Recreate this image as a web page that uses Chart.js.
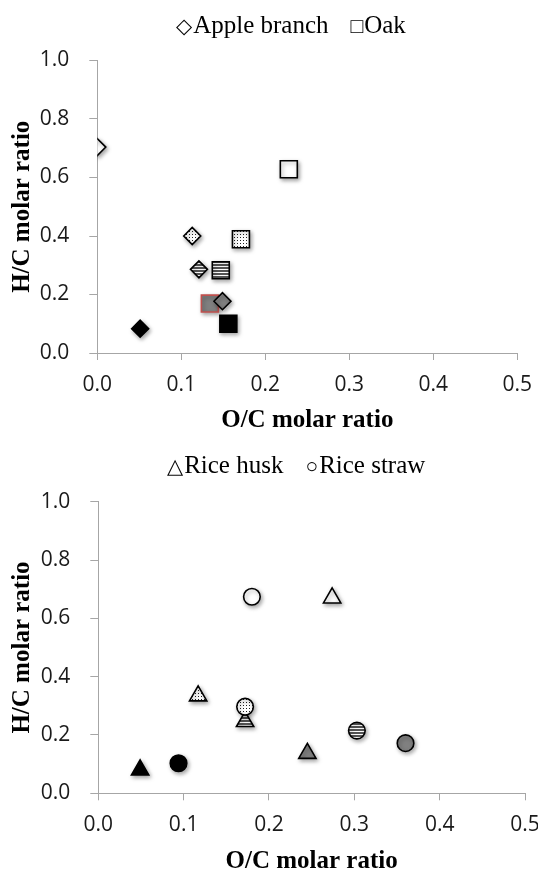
<!DOCTYPE html>
<html>
<head>
<meta charset="utf-8">
<script src="https://cdn.jsdelivr.net/npm/chart.js@4.4.0/dist/chart.umd.min.js"></script>
<style>
  html, body { margin: 0; padding: 0; background: #fff; }
  #wrap { position: relative; width: 538px; height: 871px; }
  canvas { position: absolute; left: 0; }
  #topChart { top: 0; }
  #bottomChart { top: 435px; }
</style>
</head>
<body>
<div id="wrap">
  <canvas id="topChart" width="538" height="435"></canvas>
  <canvas id="bottomChart" width="538" height="436"></canvas>
</div>
<script>
// O/C (x) and H/C (y) molar ratios, order: raw, dotted, striped, grey, black
const appleX = [0.000, 0.113, 0.121, 0.149, 0.051];
const appleY = [0.704, 0.400, 0.286, 0.177, 0.083];
const oakX = [0.228, 0.171, 0.147, 0.134, 0.156];
const oakY = [0.628, 0.389, 0.283, 0.169, 0.100];
const huskX = [0.274, 0.117, 0.172, 0.245, 0.049];
const huskY = [0.670, 0.334, 0.246, 0.137, 0.080];
const strawX = [0.180, 0.172, 0.303, 0.360, 0.094];
const strawY = [0.674, 0.297, 0.215, 0.172, 0.103];

const xTicks = [0, 0.1, 0.2, 0.3, 0.4, 0.5];
const yTicks = [0, 0.2, 0.4, 0.6, 0.8, 1.0];

const AXIS = '#a6a6a6';
const SERIF = "'Liberation Serif', 'DejaVu Serif', serif";
const SANS = "'Open Sans', 'Noto Sans', sans-serif";

// fill patterns used by the markers
function makePattern(w, h, paint) {
  const c = document.createElement('canvas');
  c.width = w; c.height = h;
  const g = c.getContext('2d');
  g.fillStyle = '#fff';
  g.fillRect(0, 0, w, h);
  paint(g);
  return g.createPattern(c, 'repeat');
}
const dots = makePattern(3, 3, g => {
  g.fillStyle = '#222';
  g.fillRect(0, 0, 1, 1);
});
const stripes = makePattern(3, 3, g => {
  g.fillStyle = '#555';
  g.fillRect(0, 0, 3, 2);
});
const fills = ['#ffffff', dots, stripes, '#808080', '#000000'];

function toPoints(xs, ys) {
  return xs.map((x, i) => ({x: x, y: ys[i]}));
}

// plain text "legend" above each plot: symbol glyph + serif label
const noteText = {
  id: 'noteText',
  afterDraw(chart, args, opts) {
    const ctx = chart.ctx;
    ctx.save();
    ctx.fillStyle = '#000';
    ctx.textAlign = 'left';
    ctx.textBaseline = 'middle';
    let x = opts.x;
    opts.items.forEach(item => {
      ctx.font = '21px ' + SERIF;
      ctx.fillText(item.sym, x, opts.y + 1);
      x += ctx.measureText(item.sym).width + 1;
      ctx.font = '25px ' + SERIF;
      ctx.fillText(item.label, x, opts.y);
      x += ctx.measureText(item.label).width + opts.gap;
    });
    ctx.restore();
  }
};

// soft drop shadow under the markers
const markerShadow = {
  id: 'markerShadow',
  beforeDatasetsDraw(chart) {
    const ctx = chart.ctx;
    ctx.save();
    ctx.shadowColor = 'rgba(0,0,0,0.35)';
    ctx.shadowBlur = 4;
    ctx.shadowOffsetX = 1.5;
    ctx.shadowOffsetY = 2;
  },
  afterDatasetsDraw(chart) {
    chart.ctx.restore();
  }
};

function markerSet(label, xs, ys, style, radius, borders, order) {
  return {
    label: label,
    data: toPoints(xs, ys),
    pointStyle: style,
    pointRadius: radius,
    pointHoverRadius: radius,
    pointBackgroundColor: fills,
    pointBorderColor: borders,
    pointBorderWidth: 1.6,
    order: order
  };
}

function buildOptions(cfg) {
  return {
    responsive: false,
    animation: false,
    layout: {padding: {left: 0, top: cfg.top, right: cfg.right, bottom: 0}},
    plugins: {
      legend: {display: false},
      tooltip: {enabled: false},
      noteText: {items: cfg.items, x: cfg.noteX, y: cfg.noteY, gap: cfg.noteGap}
    },
    scales: {
      x: {
        type: 'linear',
        min: 0,
        max: 0.5,
        afterBuildTicks: s => { s.ticks = xTicks.map(v => ({value: v})); },
        afterFit: s => { s.height = cfg.xHeight; s.paddingRight = 0; s.paddingLeft = 0; },
        ticks: {
          color: '#1a1a1a',
          font: {family: SANS, size: 21},
          padding: 12,
          callback: v => v.toFixed(1)
        },
        grid: {drawOnChartArea: false, tickLength: 7, color: AXIS},
        border: {color: AXIS, width: 1},
        title: {
          display: true,
          text: 'O/C molar ratio',
          color: '#000',
          font: {family: SERIF, size: 25, weight: 'bold'},
          padding: {top: 0, bottom: cfg.xTitlePad}
        }
      },
      y: {
        type: 'linear',
        min: 0,
        max: 1,
        afterBuildTicks: s => { s.ticks = yTicks.map(v => ({value: v})); },
        afterFit: s => { s.width = cfg.yWidth; },
        ticks: {
          color: '#1a1a1a',
          font: {family: SANS, size: 21},
          padding: 20,
          callback: v => v.toFixed(1)
        },
        grid: {drawOnChartArea: false, tickLength: 8, color: AXIS},
        border: {color: AXIS, width: 1},
        title: {
          display: true,
          text: 'H/C molar ratio',
          color: '#000',
          font: {family: SERIF, size: 25, weight: 'bold'},
          padding: {top: 8, bottom: 0}
        }
      }
    }
  };
}

const black5 = ['#000', '#000', '#000', '#000', '#000'];
const oakBorders = ['#000', '#000', '#000', '#c0504d', '#000'];

new Chart(document.getElementById('topChart').getContext('2d'), {
  type: 'scatter',
  data: {
    datasets: [
      markerSet('Apple branch', appleX, appleY, 'rectRot', 8.5, black5, 0),
      markerSet('Oak', oakX, oakY, 'rect', 12, oakBorders, 1)
    ]
  },
  options: buildOptions({
    top: 60.5, right: 20.7, xHeight: 82, xTitlePad: -1, yWidth: 97.3,
    items: [{sym: '\u25C7', label: 'Apple branch'}, {sym: '\u25A1', label: 'Oak'}],
    noteX: 176, noteY: 26, noteGap: 22
  }),
  plugins: [noteText, markerShadow]
});

new Chart(document.getElementById('bottomChart').getContext('2d'), {
  type: 'scatter',
  data: {
    datasets: [
      markerSet('Rice husk', huskX, huskY, 'triangle', 10, black5, 1),
      markerSet('Rice straw', strawX, strawY, 'circle', 8.3, black5, 0)
    ]
  },
  options: buildOptions({
    top: 66.7, right: 13, xHeight: 77.7, xTitlePad: -6, yWidth: 98.3,
    items: [{sym: '\u25B3', label: 'Rice husk'}, {sym: '\u25CB', label: 'Rice straw'}],
    noteX: 167, noteY: 31.5, noteGap: 22
  }),
  plugins: [noteText, markerShadow]
});
</script>
</body>
</html>
